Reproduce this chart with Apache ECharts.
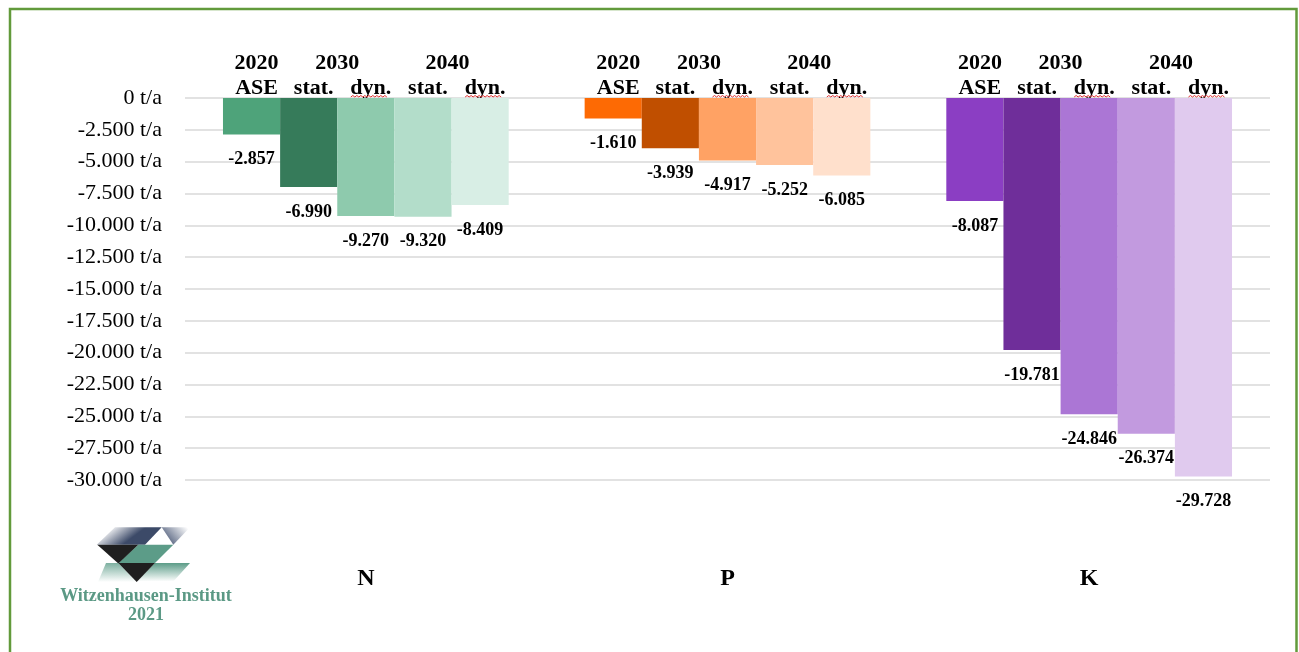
<!DOCTYPE html>
<html>
<head>
<meta charset="utf-8">
<script src="https://cdn.jsdelivr.net/npm/echarts@6/dist/echarts.min.js"></script>
<style>
  html, body { margin: 0; padding: 0; background: #ffffff; }
  #chart { width: 1299px; height: 652px; }
</style>
</head>
<body>
<div id="chart"></div>
<script>
// Nutrient categories on the x axis
const nutrients = ['N', 'P', 'K'];

// Scenario headers (year line + variant line) above each bar
const scenarioYears = ['2020', '2030', '', '2040', ''];
const scenarioNames = ['ASE', 'stat.', 'dyn.', 'stat.', 'dyn.'];

// Nutrient balance in t/a, ordered N, P, K
const ase2020  = [-2857, -1610, -8087];
const stat2030 = [-6990, -3939, -19781];
const dyn2030  = [-9270, -4917, -24846];
const stat2040 = [-9320, -5252, -26374];
const dyn2040  = [-8409, -6085, -29728];

// Value axis range
const yMin = -30000;
const yMax = 0;
const yStep = 2500;

// Bar colours per scenario, ordered N, P, K
const seriesColors = [
  ['#4ea37a', '#fd6a04', '#8b3ec3'],
  ['#367b5a', '#c04f00', '#6f2e9a'],
  ['#8ecaad', '#ffa264', '#ab76d5'],
  ['#b3ddca', '#ffc39c', '#c29adf'],
  ['#d8eee5', '#ffe0cc', '#e0caee']
];

const seriesValues = [ase2020, stat2030, dyn2030, stat2040, dyn2040];
const seriesNames = ['2020 ASE', '2030 stat.', '2030 dyn.', '2040 stat.', '2040 dyn.'];

const serif = '"Liberation Serif", "Times New Roman", serif';
const categoryGap = 0.21;

function deNumber(v) {
  const s = Math.abs(Math.round(v)).toString().replace(/\B(?=(\d{3})+(?!\d))/g, '.');
  return (v < 0 ? '-' : '') + s;
}

const chart = echarts.init(document.getElementById('chart'), null, { renderer: 'canvas' });

const series = seriesValues.map((vals, s) => ({
  name: seriesNames[s],
  type: 'bar',
  barGap: '0%',
  barCategoryGap: (categoryGap * 100) + '%',
  data: vals.map((v, c) => ({ value: v, itemStyle: { color: seriesColors[s][c] } })),
  label: {
    show: true,
    position: 'bottom',
    distance: 16,
    formatter: p => deNumber(p.value),
    fontFamily: serif,
    fontWeight: 'bold',
    fontSize: 18,
    color: '#000'
  },
  emphasis: { disabled: true },
  animation: false
}));

chart.setOption({
  animation: false,
  backgroundColor: '#ffffff',
  grid: { left: 185, right: 29, top: 98, bottom: 172 },
  xAxis: {
    type: 'category',
    data: nutrients,
    position: 'bottom',
    axisLine: { show: false, onZero: false },
    axisTick: { show: false },
    axisLabel: {
      margin: 87,
      fontFamily: serif,
      fontWeight: 'bold',
      fontSize: 24,
      color: '#000'
    }
  },
  yAxis: {
    type: 'value',
    min: yMin,
    max: yMax,
    interval: yStep,
    axisLine: { show: false },
    axisTick: { show: false },
    axisLabel: {
      margin: 23,
      fontFamily: serif,
      fontSize: 22,
      color: '#000',
      formatter: v => deNumber(v) + ' t/a'
    },
    splitLine: { lineStyle: { color: '#d9d9d9', width: 1.5 } }
  },
  series: series
});

// Headers, frame and institute mark placed from the axis scales
const graphics = [];

graphics.push({
  type: 'rect',
  shape: { x: 10, y: 9, width: 1286.5, height: 700 },
  style: { fill: 'none', stroke: '#629a3b', lineWidth: 2.5 },
  silent: true
});

const zeroY = chart.convertToPixel({ yAxisIndex: 0 }, 0);
const centers = nutrients.map(n => chart.convertToPixel({ xAxisIndex: 0 }, n));
const band = centers[1] - centers[0];
const bw = band * (1 - categoryGap) / seriesValues.length;
const headerStyle = { fontFamily: serif, fontWeight: 'bold', fontSize: 22, fill: '#000', textAlign: 'center', textVerticalAlign: 'middle' };

centers.forEach(cx => {
  const barCenter = k => cx + (k - 2) * bw;
  // year line
  graphics.push({ type: 'text', style: Object.assign({ text: scenarioYears[0], x: barCenter(0) + 5, y: zeroY - 35 }, headerStyle) });
  graphics.push({ type: 'text', style: Object.assign({ text: scenarioYears[1], x: cx - 0.5 * bw, y: zeroY - 35 }, headerStyle) });
  graphics.push({ type: 'text', style: Object.assign({ text: scenarioYears[3], x: cx + 1.5 * bw - 4, y: zeroY - 35 }, headerStyle) });
  // variant line
  scenarioNames.forEach((name, k) => {
    const x = barCenter(k) + 5;
    graphics.push({ type: 'text', style: Object.assign({ text: name, x: x, y: zeroY - 10 }, headerStyle) });
    if (name === 'dyn.') {
      // spell-check squiggle under "dyn."
      const pts = [];
      const x0 = x - 20;
      for (let i = 0; i <= 18; i++) pts.push([x0 + i * 2, zeroY - 1.5 + (i % 2 ? -1 : 0.5)]);
      graphics.push({ type: 'polyline', shape: { points: pts }, style: { stroke: '#e03030', lineWidth: 1, fill: null }, silent: true });
    }
  });
});

// Institute mark
const teal = '#5c9c88';
function vgrad(top, bottom) {
  return { type: 'linear', x: 0, y: 0, x2: 0, y2: 1, colorStops: [{ offset: 0, color: top }, { offset: 1, color: bottom }] };
}
function lgrad(x, y, x2, y2, a, b) {
  return { type: 'linear', x: x, y: y, x2: x2, y2: y2, colorStops: [{ offset: 0, color: a }, { offset: 1, color: b }] };
}
graphics.push(
  { type: 'polygon', shape: { points: [[96.7, 544.7], [115, 527.3], [161.7, 527.3], [145, 544.7]] }, style: { fill: lgrad(0.2, 0, 0.4, 1, 'rgba(60,74,104,0)', '#3c4a68') }, silent: true },
  { type: 'polygon', shape: { points: [[161.7, 527.3], [190, 527.3], [173.3, 544.7]] }, style: { fill: lgrad(0.2, 1, 0.9, 0, '#4a5876', 'rgba(74,88,118,0)') }, silent: true },
  { type: 'polygon', shape: { points: [[138.3, 544.7], [173.3, 544.7], [155, 563], [118.3, 563]] }, style: { fill: teal }, silent: true },
  { type: 'polygon', shape: { points: [[97.3, 544.7], [138.3, 544.7], [118.3, 563.5]] }, style: { fill: '#1f1f1f' }, silent: true },
  { type: 'polygon', shape: { points: [[155, 563], [190, 563], [173.3, 581.5], [136.7, 581.5]] }, style: { fill: vgrad(teal, 'rgba(92,156,136,0)') }, silent: true },
  { type: 'polygon', shape: { points: [[106, 563], [118.3, 563], [136.7, 582], [98, 582]] }, style: { fill: vgrad('rgba(92,156,136,0.8)', 'rgba(92,156,136,0)') }, silent: true },
  { type: 'polygon', shape: { points: [[118.3, 563], [155, 563], [136.7, 582]] }, style: { fill: '#1f1f1f' }, silent: true },
  { type: 'text', style: { text: 'Witzenhausen-Institut', x: 146, y: 596, fontFamily: serif, fontWeight: 'bold', fontSize: 18, fill: '#5b9985', textAlign: 'center', textVerticalAlign: 'middle' } },
  { type: 'text', style: { text: '2021', x: 146, y: 615, fontFamily: serif, fontWeight: 'bold', fontSize: 18, fill: '#5b9985', textAlign: 'center', textVerticalAlign: 'middle' } }
);

chart.setOption({ graphic: graphics });
</script>
</body>
</html>
